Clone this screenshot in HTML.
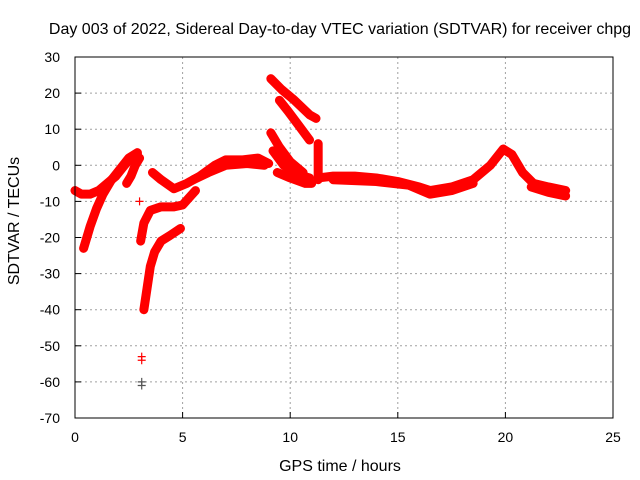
<!DOCTYPE html>
<html><head><meta charset="utf-8">
<style>
body{margin:0;background:#fff;}
svg{display:block;font-family:"Liberation Sans",sans-serif;}
</style></head>
<body>
<svg id="chart" width="640" height="480">
<rect width="640" height="480" fill="#fff"/>
<text x="340" y="34" font-size="16" text-anchor="middle">Day 003 of 2022, Sidereal Day-to-day VTEC variation (SDTVAR) for receiver chpg</text>
<text x="340" y="471" font-size="16" text-anchor="middle">GPS time / hours</text>
<text x="19" y="221" font-size="16" text-anchor="middle" transform="rotate(-90 19 221)">SDTVAR / TECUs</text>
<g id="grid"></g>
<g id="marks"></g>
<rect x="75" y="57" width="538" height="361" fill="none" stroke="#000" stroke-width="1"/>
<g id="ticks"></g>
</svg>
<script>
const xTicks=[0,5,10,15,20,25];
const yTicks=[-70,-60,-50,-40,-30,-20,-10,0,10,20,30];
const trackA=[[0,-7],[0.3,-8],[0.7,-8],[1.1,-7],[1.5,-5],[1.9,-3],[2.3,0],[2.6,2],[2.9,3]];
const trackB=[[0.4,-23],[0.7,-17],[1.0,-12],[1.3,-8],[1.7,-4],[2.1,-1],[2.5,2],[2.9,3.5]];
const trackC=[[3.0,2],[2.8,0],[2.6,-3],[2.4,-5]];
const trackD=[[3.6,-2],[4.0,-4],[4.6,-6.5],[5.2,-5],[5.8,-3],[6.5,0],[7.0,1.5],[7.8,1.5],[8.5,2],[9.0,0.5]];
const trackD2=[[5.5,-4],[6.2,-2],[7.0,0],[8.0,0.5],[8.8,0]];
const trackE=[[3.05,-21],[3.2,-16],[3.5,-12.5],[4.0,-11.5],[4.6,-11.5],[5.0,-11],[5.3,-9],[5.6,-7]];
const trackF=[[3.2,-40],[3.35,-34],[3.5,-28],[3.7,-24],[4.0,-21],[4.4,-19.5],[4.9,-17.5]];
const trackG=[[9.1,24],[9.6,21],[10.2,18],[10.9,14],[11.2,13]];
const trackH=[[9.5,18],[9.9,15],[10.4,11],[10.9,7]];
const trackI=[[9.1,9],[9.5,5],[10.0,1],[10.6,-2]];
const trackJ=[[9.2,4],[9.7,0],[10.3,-2.5],[10.9,-3.5]];
const trackK=[[9.4,-2],[10.0,-3.5],[10.7,-5],[11.0,-5]];
const trackL=[[11.3,6],[11.3,-4]];
const trackM=[[11.3,-3.5],[12,-3],[13,-3],[14,-3.5],[15,-4.5],[16,-6],[16.5,-7],[17.5,-6],[18.5,-4],[19.3,0],[19.9,4.5],[20.3,3],[20.8,-2],[21.3,-5],[22,-6],[22.8,-7]];
const trackN=[[12,-4],[14,-4.5],[15.5,-5.5],[16.5,-8],[17.5,-7],[18.5,-5]];
const trackO=[[21.2,-6],[22,-7.5],[22.8,-8.5]];
const tracks=[trackA,trackB,trackC,trackD,trackD2,trackE,trackF,trackG,trackH,trackI,trackJ,trackK,trackL,trackM,trackN,trackO];
const redPoints=[[3.0,-10],[3.1,-53],[3.1,-54]];
const darkPoints=[[3.1,-60],[3.1,-61]];

const NS="http://www.w3.org/2000/svg";
const X=v=>75+v*538/25;
const Y=v=>57+(30-v)*361/100;
function mk(tag,attrs,parent){const e=document.createElementNS(NS,tag);for(const k in attrs)e.setAttribute(k,attrs[k]);parent.appendChild(e);return e;}
const grid=document.getElementById('grid'),ticks=document.getElementById('ticks'),marks=document.getElementById('marks');
xTicks.forEach(t=>{
  if(t>0&&t<25){const g=mk('line',{x1:X(t),x2:X(t),y1:57,y2:418,stroke:'#a0a0a0','stroke-dasharray':'2,3'},grid);
  
  }
  const l=mk('text',{x:X(t),y:442,'font-size':14,'text-anchor':'middle'},ticks);l.textContent=t;
  
  
  const tk=mk('line',{x1:X(t),x2:X(t),y1:418,y2:412,stroke:'#000'},ticks);
  
  
});
yTicks.forEach(t=>{
  if(t>-70&&t<30){const g=mk('line',{x1:75,x2:613,y1:Y(t),y2:Y(t),stroke:'#a0a0a0','stroke-dasharray':'2,3'},grid);
  
  }
  const l=mk('text',{x:60,y:Y(t)+5,'font-size':14,'text-anchor':'end'},ticks);l.textContent=t;
  
  
  const tk=mk('line',{x1:75,x2:81,y1:Y(t),y2:Y(t),stroke:'#000'},ticks);
  
  
});
function plus(x,y,c){const p=mk('path',{d:`M${X(x)-4},${Y(y)}h8M${X(x)},${Y(y)-4}v8`,stroke:c,'stroke-width':1.2},marks);
  
  }
tracks.forEach(tr=>{
  const pl=mk('polyline',{points:tr.map(p=>X(p[0])+','+Y(p[1])).join(' '),fill:'none',stroke:'#f00','stroke-width':9,'stroke-linejoin':'round','stroke-linecap':'round'},marks);
  
  
  tr.forEach(p=>plus(p[0],p[1],'#f00'));
});
redPoints.forEach(p=>plus(p[0],p[1],'#f00'));
darkPoints.forEach(p=>plus(p[0],p[1],'#555'));
</script>
</body></html>
